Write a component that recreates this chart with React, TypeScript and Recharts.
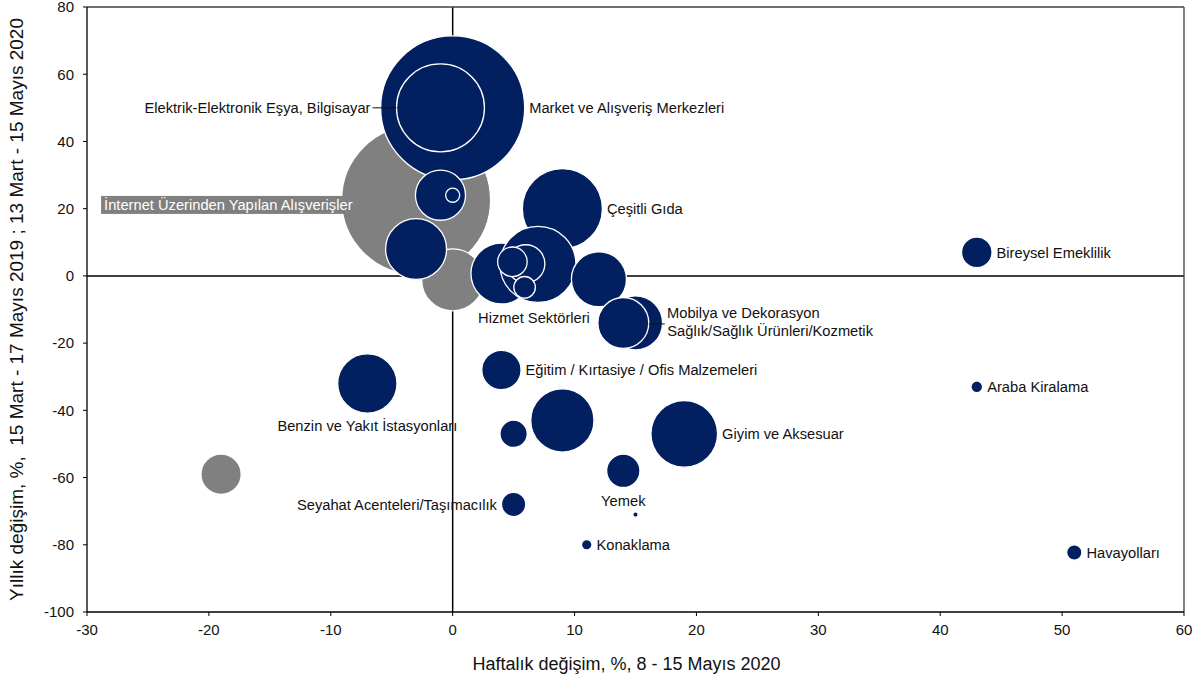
import React from 'react';
import {
  ScatterChart, Scatter, XAxis, YAxis, ZAxis, Cell, ReferenceLine, Label,
} from 'recharts';

// ---- data (drawing order) ----
const sectors = [
  'İnternet Üzerinden Yapılan Alışverişler',
  'Market ve Alışveriş Merkezleri',
  'Elektrik-Elektronik Eşya, Bilgisayar',
  '',
  '',
  'Çeşitli Gıda',
  '',
  '',
  '',
  'Hizmet Sektörleri',
  '',
  '',
  '',
  '',
  'Mobilya ve Dekorasyon',
  'Sağlık/Sağlık Ürünleri/Kozmetik',
  'Eğitim / Kırtasiye / Ofis Malzemeleri',
  'Benzin ve Yakıt İstasyonları',
  '',
  '',
  '',
  'Seyahat Acenteleri/Taşımacılık',
  'Konaklama',
  '',
  'Yemek',
  'Giyim ve Aksesuar',
  'Araba Kiralama',
  'Havayolları',
  'Bireysel Emeklilik',
];
const weeklyChange = [
  -3, 0, -1, -1, 0, 9, 0, -3, 4, 7, 6, 4.9, 5.9, 12, 15, 14, 4, -7, -19, 5, 9, 5, 11, 15, 14, 19, 43, 51, 43,
];
const yearlyChange = [
  22.6, 50, 50, 24, 24, 20, -1.2, 8, 0.7, 3.4, 3.6, 4.2, -3.4, -1, -14, -14, -28, -32, -59, -47, -43, -68, -80, -71, -58, -47, -33, -82.3, 7,
];
const bubbleWeight = [
  107.1, 100, 37.3, 12.1, 0.95, 30.9, 18.5, 17.9, 17.9, 27.9, 7.0, 4.2, 2.25, 14.6, 14.1, 12.5, 7.45, 16.96, 7.83, 3.6, 19.3, 2.85, 0.53, 0.135, 5.35, 21.45, 0.66, 1.13, 4.49,
];
const sectorGroup = [
  'B', 'A', 'A', 'A', 'A', 'A', 'B', 'A', 'A', 'A', 'A', 'A', 'A', 'A', 'A', 'A', 'A', 'A', 'B', 'A', 'A', 'A', 'A', 'A', 'A', 'A', 'A', 'A', 'A',
];
const xTicks = [-30, -20, -10, 0, 10, 20, 30, 40, 50, 60];
const yTicks = [-100, -80, -60, -40, -20, 0, 20, 40, 60, 80];

const xTitle = 'Haftalık değişim, %, 8 - 15 Mayıs 2020';
const yTitle = 'Yıllık değişim, %,  15 Mart - 17 Mayıs 2019 ; 13 Mart - 15 Mayıs 2020';

const points = sectors.map((name, i) => ({
  name,
  x: weeklyChange[i],
  y: yearlyChange[i],
  z: bubbleWeight[i],
  group: sectorGroup[i],
}));

// ---- styles ----
const NAVY = '#022060';
const GREY = '#808080';
const groupColor: Record<string, string> = { A: NAVY, B: GREY };
const FONT = '"Liberation Sans", Arial, sans-serif';
const LABEL_SIZE = 14.7;

type Placement = { side: string; dx?: number; dy?: number };
const labelPlacement: Record<string, Placement> = {
  'Market ve Alışveriş Merkezleri': { side: 'right' },
  'Elektrik-Elektronik Eşya, Bilgisayar': { side: 'leaderLeft' },
  'İnternet Üzerinden Yapılan Alışverişler': { side: 'box' },
  'Çeşitli Gıda': { side: 'right' },
  'Bireysel Emeklilik': { side: 'right' },
  'Hizmet Sektörleri': { side: 'below', dx: -4, dy: 2.5 },
  'Mobilya ve Dekorasyon': { side: 'right', dy: -10 },
  'Sağlık/Sağlık Ürünleri/Kozmetik': { side: 'leaderRight', dy: 7.5 },
  'Eğitim / Kırtasiye / Ofis Malzemeleri': { side: 'right' },
  'Benzin ve Yakıt İstasyonları': { side: 'below' },
  'Giyim ve Aksesuar': { side: 'right' },
  'Seyahat Acenteleri/Taşımacılık': { side: 'left' },
  'Yemek': { side: 'below' },
  'Konaklama': { side: 'right' },
  'Araba Kiralama': { side: 'right' },
  'Havayolları': { side: 'right' },
};

const renderLabel = (props: any) => {
  const { cx, cy, payload } = props;
  const r = props.width ? props.width / 2 : Math.sqrt((props.size || 0) / Math.PI);
  const cfg = payload ? labelPlacement[payload.name] : undefined;
  if (!cfg || cx == null) return <g />;
  const dx = cfg.dx || 0;
  const dy = cfg.dy || 0;
  const common = { fontFamily: FONT, fontSize: LABEL_SIZE, fill: '#111', dy: '0.35em' };
  switch (cfg.side) {
    case 'right':
      return <text {...common} x={cx + r + 4.5 + dx} y={cy + dy} textAnchor="start">{payload.name}</text>;
    case 'left':
      return <text {...common} x={cx - r - 4.5 + dx} y={cy + dy} textAnchor="end">{payload.name}</text>;
    case 'below':
      return <text {...common} x={cx + dx} y={cy + r + 13 + dy} textAnchor="middle">{payload.name}</text>;
    case 'leaderLeft':
      return (
        <g>
          <line x1={cx - r - 24} y1={cy} x2={cx - r} y2={cy} stroke="#111" strokeWidth={1} />
          <text {...common} x={cx - r - 26} y={cy} textAnchor="end">{payload.name}</text>
        </g>
      );
    case 'leaderRight':
      return (
        <g>
          <line x1={cx + r} y1={cy + 1} x2={cx + r + 16} y2={cy + 1} stroke="#111" strokeWidth={1} />
          <text {...common} x={cx + r + 18.5} y={cy + dy} textAnchor="start">{payload.name}</text>
        </g>
      );
    case 'box': {
      const right = cx - r + 12.5;
      const w = 253;
      return (
        <g>
          <rect x={right - w} y={cy - 4} width={w} height={18} fill={GREY} />
          <text {...common} fill="#fff" x={right - w + 3} y={cy + 5} textAnchor="start">{payload.name}</text>
        </g>
      );
    }
    default:
      return <g />;
  }
};

const XTitle = (props: any) => {
  const vb = props.viewBox || { x: 87, y: 612, width: 1097, height: 70 };
  return (
    <text x={vb.x + vb.width / 2 - 9} y={vb.y + 58} textAnchor="middle" fontFamily={FONT} fontSize={18} fill="#111">
      {xTitle}
    </text>
  );
};

const YTitle = (props: any) => {
  const vb = props.viewBox || { x: 0, y: 7, width: 87, height: 605 };
  const cy = vb.y + vb.height / 2;
  const x = vb.x + 23;
  return (
    <text
      x={x}
      y={cy}
      transform={`rotate(-90, ${x}, ${cy})`}
      textAnchor="middle"
      fontFamily={FONT}
      fontSize={19}
      fill="#111"
      style={{ whiteSpace: 'pre' }}
    >
      {yTitle}
    </text>
  );
};

const MAX_R = 72;

export default function App() {
  return (
    <div style={{ position: 'absolute', left: 0, top: 0, width: 1200, height: 682, background: '#fff' }}>
      <ScatterChart width={1200} height={682} margin={{ top: 7, right: 16, bottom: 0, left: 0 }}>
        <XAxis
          type="number"
          dataKey="x"
          domain={[-30, 60]}
          ticks={xTicks}
          interval={0}
          height={70}
          axisLine={{ stroke: '#000', strokeWidth: 1.3 }}
          tickLine={{ stroke: '#000' }}
          tickSize={4}
          tickMargin={8}
          tick={{ fontFamily: FONT, fontSize: 15, fill: '#111' }}
          allowDataOverflow
        >
          <Label content={XTitle} />
        </XAxis>
        <YAxis
          type="number"
          dataKey="y"
          domain={[-100, 80]}
          ticks={yTicks}
          interval={0}
          width={87}
          axisLine={{ stroke: '#000', strokeWidth: 1.3 }}
          tickLine={{ stroke: '#000' }}
          tickSize={4}
          tickMargin={9}
          tick={{ fontFamily: FONT, fontSize: 15, fill: '#111' }}
          allowDataOverflow
        >
          <Label content={YTitle} />
        </YAxis>
        <ZAxis type="number" dataKey="z" domain={[0, 200]} range={[0, Math.PI * MAX_R * MAX_R * 2]} />
        <Scatter data={points} isAnimationActive={false} stroke="#fff" strokeWidth={1.3}>
          {points.map((p, i) => (
            <Cell key={i} fill={groupColor[p.group]} stroke="#fff" strokeWidth={1.3} />
          ))}
        </Scatter>
        <ReferenceLine x={0} stroke="#000" strokeWidth={1.5} />
        <ReferenceLine y={0} stroke="#000" strokeWidth={1.5} />
        <ReferenceLine y={80} stroke="#404040" strokeWidth={1.3} />
        <ReferenceLine x={60} stroke="#404040" strokeWidth={1.3} />
        <Scatter data={points} isAnimationActive={false} shape={renderLabel} legendType="none" />
      </ScatterChart>
    </div>
  );
}
